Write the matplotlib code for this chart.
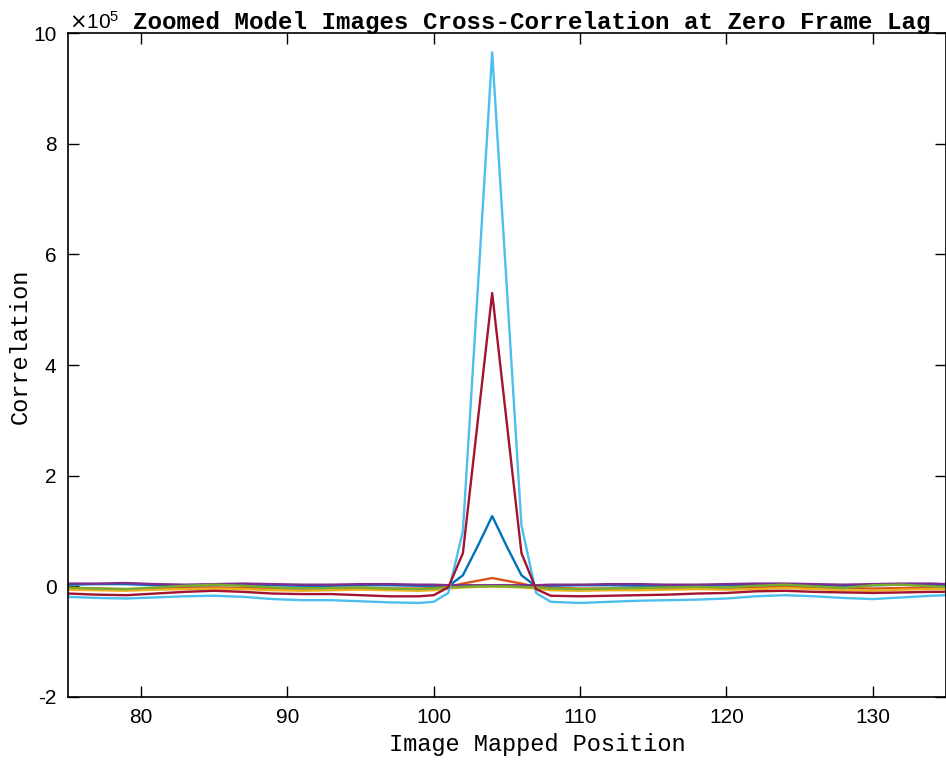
import matplotlib
matplotlib.use("Agg")
import matplotlib.pyplot as plt
from matplotlib.ticker import FuncFormatter

# image mapped position (samples), correlation values in units of 1e5
pos = [75, 77, 79, 81, 83, 85, 87, 89, 91, 93, 95, 97, 99, 100, 101, 102, 103,
       104, 105, 106, 107, 108, 110, 112, 114, 116, 118, 120, 122, 124, 126,
       128, 130, 132, 134, 135]

corr_blue = [0.03, 0.04, 0.04, 0.02, 0.01, 0.02, 0.03, 0.02, 0.01, 0.01, 0.02,
             0.02, 0.01, 0.01, 0.0, 0.2, 0.72, 1.27, 0.72, 0.2, 0.0, 0.01,
             0.02, 0.02, 0.01, 0.01, 0.02, 0.02, 0.03, 0.03, 0.02, 0.01,
             0.02, 0.03, 0.03, 0.02]
corr_orange = [-0.03, -0.04, -0.05, -0.04, -0.03, -0.02, -0.03, -0.04, -0.04,
               -0.03, -0.03, -0.04, -0.04, -0.03, -0.01, 0.05, 0.1, 0.15, 0.1,
               0.05, -0.01, -0.03, -0.04, -0.04, -0.03, -0.03, -0.02, -0.03,
               -0.02, -0.01, -0.02, -0.03, -0.04, -0.03, -0.02, -0.02]
corr_yellow = [-0.06, -0.07, -0.08, -0.06, -0.05, -0.04, -0.05, -0.07, -0.08,
               -0.07, -0.06, -0.07, -0.08, -0.07, -0.04, -0.02, -0.01, 0.0,
               -0.01, -0.02, -0.04, -0.07, -0.08, -0.07, -0.07, -0.06, -0.05,
               -0.06, -0.05, -0.03, -0.05, -0.07, -0.08, -0.06, -0.05, -0.05]
corr_purple = [0.05, 0.05, 0.06, 0.04, 0.03, 0.04, 0.05, 0.04, 0.03, 0.03,
               0.04, 0.04, 0.03, 0.03, 0.02, 0.02, 0.02, 0.02, 0.02, 0.02,
               0.02, 0.03, 0.03, 0.04, 0.04, 0.03, 0.03, 0.04, 0.05, 0.05,
               0.04, 0.03, 0.04, 0.05, 0.05, 0.04]
corr_green = [-0.02, -0.04, -0.05, -0.02, 0.01, 0.03, 0.01, -0.02, -0.04,
              -0.03, -0.02, -0.04, -0.05, -0.04, -0.02, -0.01, 0.0, 0.0, 0.0,
              -0.01, -0.02, -0.04, -0.05, -0.04, -0.03, -0.02, -0.01, -0.02,
              0.01, 0.03, 0.0, -0.03, 0.02, 0.03, 0.0, -0.01]
corr_cyan = [-0.19, -0.21, -0.22, -0.2, -0.18, -0.17, -0.19, -0.23, -0.25,
             -0.25, -0.27, -0.29, -0.3, -0.28, -0.12, 1.0, 5.3, 9.65, 5.4, 1.1,
             -0.12, -0.28, -0.3, -0.28, -0.26, -0.25, -0.24, -0.22, -0.18,
             -0.16, -0.18, -0.21, -0.23, -0.2, -0.17, -0.16]
corr_darkred = [-0.13, -0.15, -0.16, -0.13, -0.1, -0.08, -0.1, -0.13, -0.14,
                -0.14, -0.16, -0.18, -0.18, -0.16, -0.02, 0.6, 2.95, 5.3, 2.95,
                0.6, -0.05, -0.17, -0.18, -0.17, -0.16, -0.15, -0.13, -0.12,
                -0.09, -0.08, -0.1, -0.11, -0.12, -0.11, -0.1, -0.1]

series = [
    (corr_blue, "#0072BD"),
    (corr_orange, "#D95319"),
    (corr_yellow, "#EDB120"),
    (corr_purple, "#7E2F8E"),
    (corr_green, "#77AC30"),
    (corr_cyan, "#4DBEEE"),
    (corr_darkred, "#A2142F"),
]

tick_font = ["Liberation Sans Narrow", "Liberation Sans", "DejaVu Sans"]
mono_font = ["Liberation Mono", "DejaVu Sans Mono"]

fig = plt.figure(figsize=(9.46, 7.61), dpi=100)
ax = fig.add_axes([0.0715, 0.0841, 0.9285, 0.8725])

for vals, col in series:
    ax.plot(pos, [v * 1e5 for v in vals], color=col, linewidth=1.7)

ax.set_xlim(75, 135)
ax.set_ylim(-2e5, 10e5)
ax.set_xticks([80, 90, 100, 110, 120, 130])
ax.set_yticks([-2e5, 0, 2e5, 4e5, 6e5, 8e5, 10e5])
ax.yaxis.set_major_formatter(FuncFormatter(lambda v, p: f"{v / 1e5:g}"))

ax.tick_params(direction="in", length=8, width=1, top=True, right=True,
               labelsize=15, pad=8)
for lab in ax.get_xticklabels() + ax.get_yticklabels():
    lab.set_family(tick_font)
for sp in ax.spines.values():
    sp.set_linewidth(1.2)

# exponent marker, MATLAB style
ax.text(0.002, 1.006, r"$\times\mathdefault{10^{5}}$", transform=ax.transAxes,
        ha="left", va="baseline", fontsize=15, family=tick_font)

ax.text(0.528, 1.006, "Zoomed Model Images Cross-Correlation at Zero Frame Lag",
        transform=ax.transAxes, ha="center", va="baseline",
        family=mono_font, fontweight="bold", fontsize=17.4)
fig.text(537 / 946, 1 - 745 / 761, "Image Mapped Position", family=mono_font,
         fontsize=17, ha="center", va="center")
fig.text(20 / 946, 1 - 346 / 761, "Correlation", family=mono_font,
         fontsize=17, ha="center", va="center", rotation=90)

fig.savefig("out.png", dpi=100)
